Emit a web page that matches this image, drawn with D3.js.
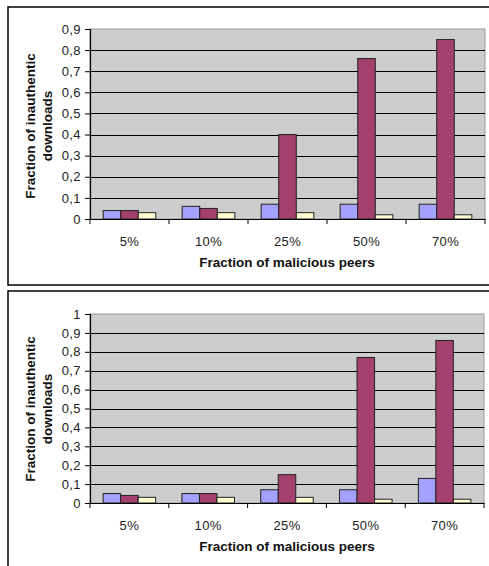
<!DOCTYPE html>
<html><head><meta charset="utf-8">
<script src="https://cdn.jsdelivr.net/npm/d3@7"></script>
<style>html,body{margin:0;padding:0;background:#fff;}svg{display:block;}</style>
</head><body>
<svg id="chart" width="489" height="566"></svg>
<script>
const categories = ["5%", "10%", "25%", "50%", "70%"];
const seriesNames = ["Series A", "Series B", "Series C"];
const seriesColors = ["#A3A3FF", "#A3406E", "#FFFFD2"];
// Top chart values
const topA = [0.04, 0.06, 0.07, 0.07, 0.07];
const topB = [0.04, 0.05, 0.40, 0.76, 0.85];
const topC = [0.03, 0.03, 0.03, 0.02, 0.02];
const topTicks = [0, 0.1, 0.2, 0.3, 0.4, 0.5, 0.6, 0.7, 0.8, 0.9];
// Bottom chart values
const botA = [0.05, 0.05, 0.07, 0.07, 0.13];
const botB = [0.04, 0.05, 0.15, 0.77, 0.86];
const botC = [0.03, 0.03, 0.03, 0.02, 0.02];
const botTicks = [0, 0.1, 0.2, 0.3, 0.4, 0.5, 0.6, 0.7, 0.8, 0.9, 1];
const yTitle = ["Fraction of inauthentic", "downloads"];
const xTitle = "Fraction of malicious peers";

const svg = d3.select("#chart");
const fmt = v => String(+v.toFixed(1)).replace(".", ",");
const FONT = "Liberation Sans, Arial, sans-serif";

function drawChart(cfg) {
  const g = svg.append("g");
  g.append("rect").attr("x", cfg.box[0]).attr("y", cfg.box[1])
    .attr("width", cfg.box[2]).attr("height", cfg.box[3])
    .attr("fill", "#fff").attr("stroke", "#000").attr("stroke-width", 1.5);

  const y = d3.scaleLinear().domain([0, cfg.max]).range([cfg.bottom, cfg.top]);
  const x0 = d3.scaleBand().domain(categories).range([cfg.left, cfg.right]).padding(0);
  const bw = x0.bandwidth();
  const w = bw / 4.5;
  const x1 = d3.scaleBand().domain(seriesNames).range([(bw - 3 * w) / 2, (bw + 3 * w) / 2]).padding(0);

  g.append("rect").attr("x", cfg.left).attr("y", cfg.top)
    .attr("width", cfg.right - cfg.left).attr("height", cfg.bottom - cfg.top)
    .attr("fill", "#CDCDCD").attr("stroke", "#9a9a9a").attr("stroke-width", 1);

  g.append("g").selectAll("line").data(cfg.ticks.filter(t => t > 0 && t < cfg.max - 1e-9))
    .join("line")
    .attr("x1", cfg.left).attr("x2", cfg.right)
    .attr("y1", d => Math.round(y(d)) + 0.5).attr("y2", d => Math.round(y(d)) + 0.5)
    .attr("stroke", "#000").attr("stroke-width", 1);

  const data = cfg.series;
  const groups = g.append("g").selectAll("g").data(categories).join("g")
    .attr("transform", c => `translate(${x0(c)},0)`);
  groups.selectAll("rect").data((c, i) => seriesNames.map((s, k) => ({s, k, v: data[k][i]})))
    .join("rect")
    .attr("x", d => x1(d.s)).attr("width", x1.bandwidth())
    .attr("y", d => y(d.v)).attr("height", d => y(0) - y(d.v))
    .attr("fill", d => seriesColors[d.k]).attr("stroke", "#222").attr("stroke-width", 1);

  const yAxis = d3.axisLeft(y).tickValues(cfg.ticks).tickFormat(fmt).tickSize(5).tickPadding(4);
  const ya = g.append("g").attr("transform", `translate(${cfg.left},0)`).call(yAxis);
  ya.select(".domain").attr("stroke", "#000").attr("stroke-width", 1.2);
  ya.selectAll("line").attr("stroke", "#000");
  ya.selectAll("text").attr("font-family", FONT)
    .attr("font-size", 13).attr("fill", "#222").attr("letter-spacing", 0.4);

  const xAxis = d3.axisBottom(x0).tickSize(0).tickPadding(18);
  const xa = g.append("g").attr("transform", `translate(0,${cfg.bottom})`).call(xAxis);
  xa.select(".domain").attr("stroke", "#000").attr("stroke-width", 1.2);
  xa.selectAll("text").attr("font-family", FONT)
    .attr("font-size", 13).attr("fill", "#222").attr("letter-spacing", 0.4);
  const bounds = categories.map(c => x0(c)).concat([cfg.right]);
  xa.append("g").selectAll("line").data(bounds).join("line")
    .attr("x1", d => d).attr("x2", d => d).attr("y1", 0).attr("y2", 5)
    .attr("stroke", "#000");

  g.append("text").attr("x", cfg.xTitleX).attr("y", cfg.xTitleY)
    .attr("text-anchor", "middle").attr("font-family", FONT)
    .attr("font-size", 13.5).attr("font-weight", "bold").attr("fill", "#111").text(xTitle);

  const yt = g.append("text").attr("transform", `translate(${cfg.yTitleX},${cfg.yTitleY}) rotate(-90)`)
    .attr("text-anchor", "middle").attr("font-family", FONT)
    .attr("font-size", 13.5).attr("font-weight", "bold").attr("fill", "#111");
  yTitle.forEach((t, i) => yt.append("tspan").attr("x", 0).attr("dy", i === 0 ? 0 : 16.5).text(t));
}

drawChart({
  box: [8, 7, 490, 278], top: 29, bottom: 219, left: 90, right: 485, max: 0.9,
  ticks: topTicks, series: [topA, topB, topC],
  xTitleX: 287, xTitleY: 267, yTitleX: 35, yTitleY: 126
});
drawChart({
  box: [8, 291, 490, 290], top: 314, bottom: 503, left: 90, right: 484, max: 1,
  ticks: botTicks, series: [botA, botB, botC],
  xTitleX: 287, xTitleY: 551, yTitleX: 35, yTitleY: 409
});
</script>
</body></html>
